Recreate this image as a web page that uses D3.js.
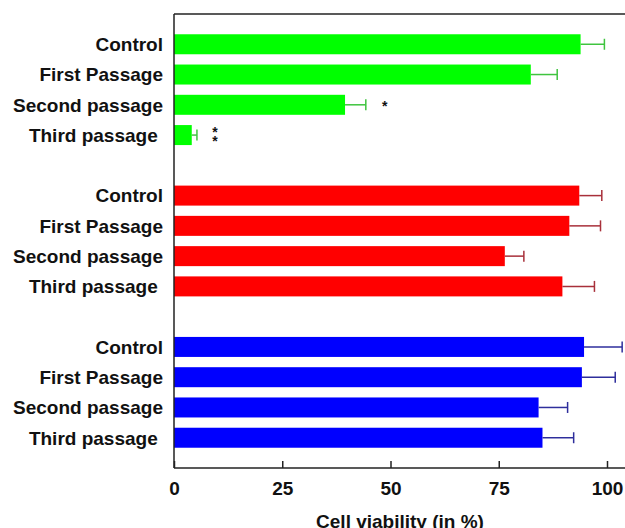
<!DOCTYPE html>
<html>
<head>
<meta charset="utf-8">
<script src="https://cdn.jsdelivr.net/npm/d3@7"></script>
<style>
  body { margin: 0; background: #fff; }
  svg text { font-family: "Liberation Sans", Arial, sans-serif; font-weight: bold; fill: #111; }
</style>
</head>
<body>
<svg id="chart" width="625" height="528"></svg>
<script>
var passages = ['Control', 'First Passage', 'Second passage', 'Third passage\u00a0'];

var greenMeans = [93.9, 82.4, 39.5, 4.1];
var greenErrors = [5.5, 6.1, 4.8, 1.2];
var greenStars = ['', '', '*', '**'];

var redMeans = [93.6, 91.3, 76.4, 89.7];
var redErrors = [5.2, 7.2, 4.4, 7.4];

var blueMeans = [94.7, 94.2, 84.2, 85.1];
var blueErrors = [8.8, 7.7, 6.7, 7.2];

var xTicks = [0, 25, 50, 75, 100];
var xTitle = 'Cell viability (in %)';

var groups = [
  { key: 'g', fill: '#00ff00', err: '#3fc43f', means: greenMeans, errors: greenErrors, stars: greenStars },
  { key: 'r', fill: '#ff0000', err: '#a8303a', means: redMeans, errors: redErrors, stars: null },
  { key: 'b', fill: '#0000ff', err: '#2e2e9c', means: blueMeans, errors: blueErrors, stars: null }
];

// flatten into rows, with a blank row between groups
var rows = [];
var rowKeys = [];
groups.forEach(function(group, gi) {
  if (gi > 0) rowKeys.push('gap' + gi);
  passages.forEach(function(label, i) {
    var key = group.key + i;
    rowKeys.push(key);
    rows.push({
      key: key, label: label, value: group.means[i], error: group.errors[i],
      fill: group.fill, errColor: group.err, star: group.stars ? group.stars[i] : ''
    });
  });
});

var plotLeft = 174, plotRight = 607, plotTop = 14, plotBottom = 468;
var barHeight = 20;
var capHeight = 11;

var x = d3.scaleLinear().domain([0, 100]).range([plotLeft, plotRight]);
var y = d3.scalePoint().domain(rowKeys).range([plotTop, plotBottom]).padding(1);

var svg = d3.select('#chart');

// bars
svg.selectAll('rect.bar')
  .data(rows)
  .enter().append('rect')
  .attr('class', 'bar')
  .attr('x', x(0))
  .attr('y', function(d) { return y(d.key) - barHeight / 2; })
  .attr('width', function(d) { return x(d.value) - x(0); })
  .attr('height', barHeight)
  .attr('fill', function(d) { return d.fill; });

// error bars (right side only)
var errs = svg.selectAll('g.err')
  .data(rows)
  .enter().append('g')
  .attr('class', 'err')
  .attr('stroke', function(d) { return d.errColor; })
  .attr('stroke-width', 1.5);

errs.append('line')
  .attr('x1', function(d) { return x(d.value); })
  .attr('x2', function(d) { return x(d.value + d.error); })
  .attr('y1', function(d) { return y(d.key); })
  .attr('y2', function(d) { return y(d.key); });

errs.append('line')
  .attr('x1', function(d) { return x(d.value + d.error); })
  .attr('x2', function(d) { return x(d.value + d.error); })
  .attr('y1', function(d) { return y(d.key) - capHeight / 2; })
  .attr('y2', function(d) { return y(d.key) + capHeight / 2; });

// significance marks, stacked one per line
var stars = [];
rows.forEach(function(d) {
  d.star.split('').forEach(function(s, i, all) {
    stars.push({ row: d, text: s, offset: all.length > 1 ? (i === 0 ? -4.5 : 4.5) : 0, stacked: all.length > 1 });
  });
});

svg.selectAll('text.star')
  .data(stars)
  .enter().append('text')
  .attr('class', 'star')
  .attr('x', function(d) { return x(d.row.value + d.row.error) + (d.stacked ? 18 : 19); })
  .attr('y', function(d) { return y(d.row.key) + d.offset + 6; })
  .attr('text-anchor', 'middle')
  .style('font-size', '14px')
  .text(function(d) { return d.text; });

// category labels
svg.selectAll('text.label')
  .data(rows)
  .enter().append('text')
  .attr('class', 'label')
  .attr('x', plotLeft - 11)
  .attr('y', function(d) { return y(d.key); })
  .attr('dy', '0.36em')
  .attr('text-anchor', 'end')
  .style('font-size', '19px')
  .text(function(d) { return d.label; });

// frame: left axis, top line, bottom axis line
var frame = svg.append('g').attr('stroke', '#222').attr('stroke-width', 1.5);
frame.append('line').attr('x1', plotLeft).attr('x2', plotLeft).attr('y1', plotTop).attr('y2', plotBottom);
frame.append('line').attr('x1', plotLeft).attr('x2', 625).attr('y1', plotTop).attr('y2', plotTop);
frame.append('line').attr('x1', plotLeft).attr('x2', 625).attr('y1', plotBottom).attr('y2', plotBottom);

// x axis with inward ticks
var xAxis = svg.append('g')
  .attr('transform', 'translate(0,' + plotBottom + ')')
  .call(d3.axisBottom(x).tickValues(xTicks).tickSize(-7).tickSizeOuter(0).tickPadding(14));

xAxis.select('.domain').remove();
xAxis.selectAll('.tick line').attr('stroke', '#222').attr('stroke-width', 1.5);
xAxis.selectAll('.tick text')
  .attr('dy', '0.71em')
  .style('font-family', '"Liberation Sans", Arial, sans-serif')
  .style('font-weight', 'bold')
  .style('font-size', '19px')
  .attr('fill', '#111');

// axis title sits partly below the bottom edge, as in the original
svg.append('text')
  .attr('x', 400)
  .attr('y', 528)
  .attr('text-anchor', 'middle')
  .style('font-size', '19px')
  .text(xTitle);
</script>
</body>
</html>
